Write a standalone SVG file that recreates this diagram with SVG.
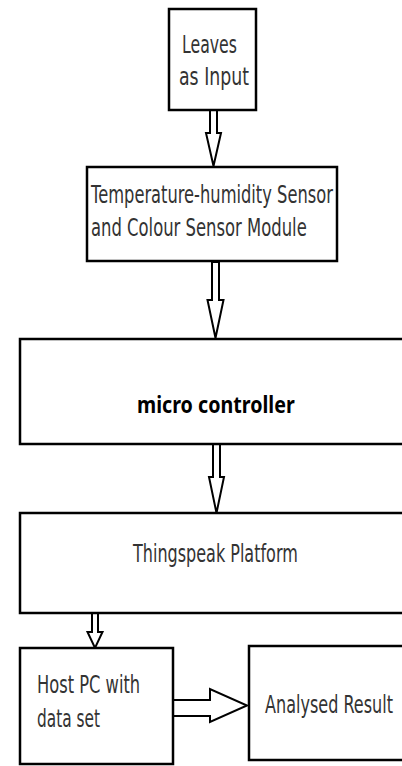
<svg xmlns="http://www.w3.org/2000/svg" width="402" height="766" viewBox="0 0 402 766">
<style>
.box{fill:#fff;stroke:#000;stroke-width:2.5}
.arr{fill:#fff;stroke:#000;stroke-width:2;stroke-linejoin:miter}
.t{font-family:"DejaVu Sans","Liberation Sans",sans-serif;font-size:24px;fill:#333}
.b{font-family:"Noto Sans","Liberation Sans",sans-serif;font-size:24px;font-weight:bold;fill:#000}
</style>
<rect width="402" height="766" fill="#fff"/>
<g id="connectors">
<polygon class="arr" points="210,110 217,110 217,133 221,133 213.5,166 206,133 210,133"/>
<polygon class="arr" points="212,262 219,262 219,300 223.5,300 215.5,338 207.5,300 212,300"/>
<polygon class="arr" points="213,444 220,444 220,477 224,477 216.5,513 209,477 213,477"/>
<polygon class="arr" points="92,613 98,613 98,632 102.5,632 95,648 87.5,632 92,632"/>
<polygon class="arr" points="173,700 210,700 210,689 247,705.5 210,722 210,716 173,716"/>
</g>
<g id="leaves">
<rect class="box" x="169" y="9" width="87" height="101"/>
<text class="t" transform="translate(182,53) scale(0.67,1)" textLength="82" lengthAdjust="spacingAndGlyphs">Leaves</text>
<text class="t" transform="translate(179,85) scale(0.67,1)" textLength="104.5" lengthAdjust="spacingAndGlyphs">as Input</text>
</g>
<g id="sensor">
<rect class="box" x="87" y="167" width="250" height="94"/>
<text class="t" transform="translate(91,203) scale(0.67,1)" textLength="361" lengthAdjust="spacingAndGlyphs">Temperature-humidity Sensor</text>
<text class="t" transform="translate(91,236) scale(0.67,1)" textLength="322" lengthAdjust="spacingAndGlyphs">and Colour Sensor Module</text>
</g>
<g id="micro">
<rect class="box" x="20" y="339" width="395" height="105"/>
<text class="b" transform="translate(137,413) scale(0.83,1)" textLength="190" lengthAdjust="spacingAndGlyphs">micro controller</text>
</g>
<g id="thingspeak">
<rect class="box" x="20" y="513" width="395" height="100"/>
<text class="t" transform="translate(133,562) scale(0.67,1)" textLength="246" lengthAdjust="spacingAndGlyphs">Thingspeak Platform</text>
</g>
<g id="host">
<rect class="box" x="20" y="648" width="153" height="116"/>
<text class="t" transform="translate(37,693) scale(0.67,1)" textLength="154" lengthAdjust="spacingAndGlyphs">Host PC with</text>
<text class="t" transform="translate(37,727) scale(0.67,1)" textLength="94" lengthAdjust="spacingAndGlyphs">data set</text>
</g>
<g id="result">
<rect class="box" x="249" y="646" width="166" height="114"/>
<text class="t" transform="translate(265,713) scale(0.67,1)" textLength="191" lengthAdjust="spacingAndGlyphs">Analysed Result</text>
</g>
</svg>
